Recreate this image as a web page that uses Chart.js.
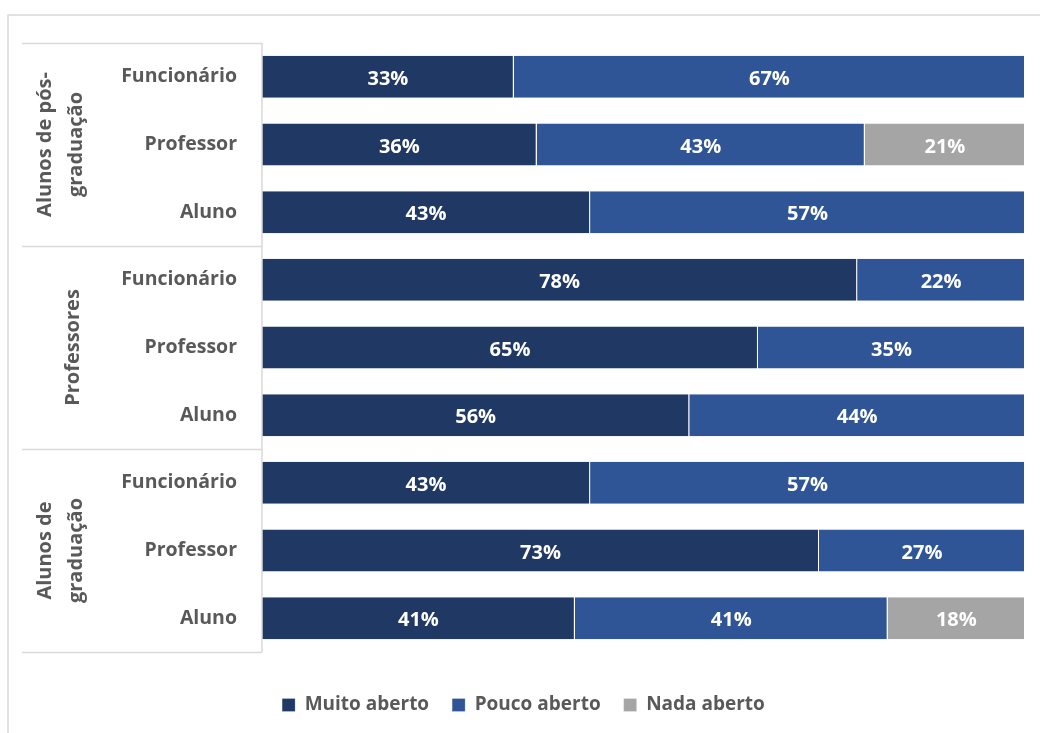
<!DOCTYPE html>
<html>
<head>
<meta charset="utf-8">
<script src="https://cdn.jsdelivr.net/npm/chart.js@4/dist/chart.umd.min.js"></script>
<style>
  html, body { margin: 0; padding: 0; background: #fff; }
  canvas { display: block; }
</style>
</head>
<body>
<canvas id="chart" width="1040" height="733"></canvas>
<script>
// categories, top to bottom
const respondents = ['Funcionário', 'Professor', 'Aluno',
                     'Funcionário', 'Professor', 'Aluno',
                     'Funcionário', 'Professor', 'Aluno'];
const groups = [['Alunos de pós-', 'graduação'], ['Professores'], ['Alunos de', 'graduação']];

const muitoAberto = [33, 36, 43, 78, 65, 56, 43, 73, 41];
const poucoAberto = [67, 43, 57, 22, 35, 44, 57, 27, 41];
const nadaAberto  = [0, 21, 0, 0, 0, 0, 0, 0, 18];

const FONT = '"Open Sans", "Noto Sans", sans-serif';
const GREY_TEXT = '#595959';
const LINE = '#D9D9D9';

// frame, group separators and rotated group names
const groupAxis = {
    id: 'groupAxis',
    beforeDraw(chart) {
        const ctx = chart.ctx;
        ctx.save();
        ctx.strokeStyle = LINE;
        ctx.lineWidth = 1.5;
        ctx.beginPath();
        ctx.moveTo(8, 733);
        ctx.lineTo(8, 15);
        ctx.lineTo(1040, 15);
        ctx.stroke();
        ctx.restore();
    },
    afterDraw(chart) {
        const ctx = chart.ctx;
        const y = chart.scales.y;
        const left = 22;
        const axisX = chart.chartArea.left;
        ctx.save();
        ctx.strokeStyle = LINE;
        ctx.lineWidth = 1.5;
        ctx.beginPath();
        ctx.moveTo(axisX, y.getPixelForValue(-0.5));
        ctx.lineTo(axisX, y.getPixelForValue(respondents.length - 0.5));
        for (let g = 0; g <= groups.length; g++) {
            const py = Math.round(y.getPixelForValue(g * 3 - 0.5)) + 0.5;
            ctx.moveTo(left, py);
            ctx.lineTo(axisX, py);
        }
        ctx.stroke();

        ctx.fillStyle = GREY_TEXT;
        ctx.font = 'bold 20px ' + FONT;
        ctx.textAlign = 'center';
        ctx.textBaseline = 'middle';
        groups.forEach((lines, g) => {
            const top = y.getPixelForValue(g * 3 - 0.5);
            const bottom = y.getPixelForValue(g * 3 + 2.5);
            const cy = (top + bottom) / 2;
            const cx = lines.length > 1 ? 61 : 73;
            ctx.save();
            ctx.translate(cx, cy);
            ctx.rotate(-Math.PI / 2);
            lines.forEach((txt, i) => {
                ctx.fillText(txt, 0, (i - (lines.length - 1) / 2) * 31);
            });
            ctx.restore();
        });
        ctx.restore();
    }
};

// percentage labels inside each segment
const segmentLabels = {
    id: 'segmentLabels',
    afterDatasetsDraw(chart) {
        const ctx = chart.ctx;
        ctx.save();
        ctx.fillStyle = '#fff';
        ctx.font = 'bold 20px ' + FONT;
        ctx.textAlign = 'center';
        ctx.textBaseline = 'middle';
        chart.data.datasets.forEach((ds, i) => {
            chart.getDatasetMeta(i).data.forEach((bar, j) => {
                const v = ds.data[j];
                if (!v) return;
                const cx = (bar.x + bar.base) / 2;
                ctx.fillText(v + '%', cx, bar.y + 2.5);
            });
        });
        ctx.restore();
    }
};

new Chart(document.getElementById('chart'), {
    type: 'bar',
    data: {
        labels: respondents,
        datasets: [
            { label: 'Muito aberto', data: muitoAberto, backgroundColor: '#203864' },
            { label: 'Pouco aberto', data: poucoAberto, backgroundColor: '#2F5597' },
            { label: 'Nada aberto', data: nadaAberto, backgroundColor: '#A5A5A5' }
        ]
    },
    options: {
        indexAxis: 'y',
        responsive: false,
        animation: false,
        devicePixelRatio: 1,
        datasets: {
            bar: {
                barPercentage: 0.62,
                categoryPercentage: 1,
                borderColor: '#fff',
                borderWidth: { right: 1 },
                borderSkipped: false
            }
        },
        layout: { padding: { top: 43, left: 22, right: 15, bottom: 8.5 } },
        scales: {
            x: {
                stacked: true,
                min: 0,
                max: 100,
                ticks: { display: false },
                grid: { display: false },
                border: { display: false },
                afterFit: s => { s.height = 20.5; }
            },
            y: {
                stacked: true,
                grid: { display: false, drawTicks: false },
                border: { display: false },
                ticks: {
                    color: GREY_TEXT,
                    padding: 25,
                    font: { family: FONT, size: 19.5, weight: 'bold' }
                },
                afterFit: s => { s.width = 240; }
            }
        },
        plugins: {
            tooltip: { enabled: false },
            legend: {
                position: 'bottom',
                labels: {
                    boxWidth: 13,
                    boxHeight: 13,
                    padding: 23,
                    color: GREY_TEXT,
                    font: { family: FONT, size: 19, weight: 'bold' }
                }
            }
        }
    },
    plugins: [groupAxis, segmentLabels]
});
</script>
</body>
</html>
